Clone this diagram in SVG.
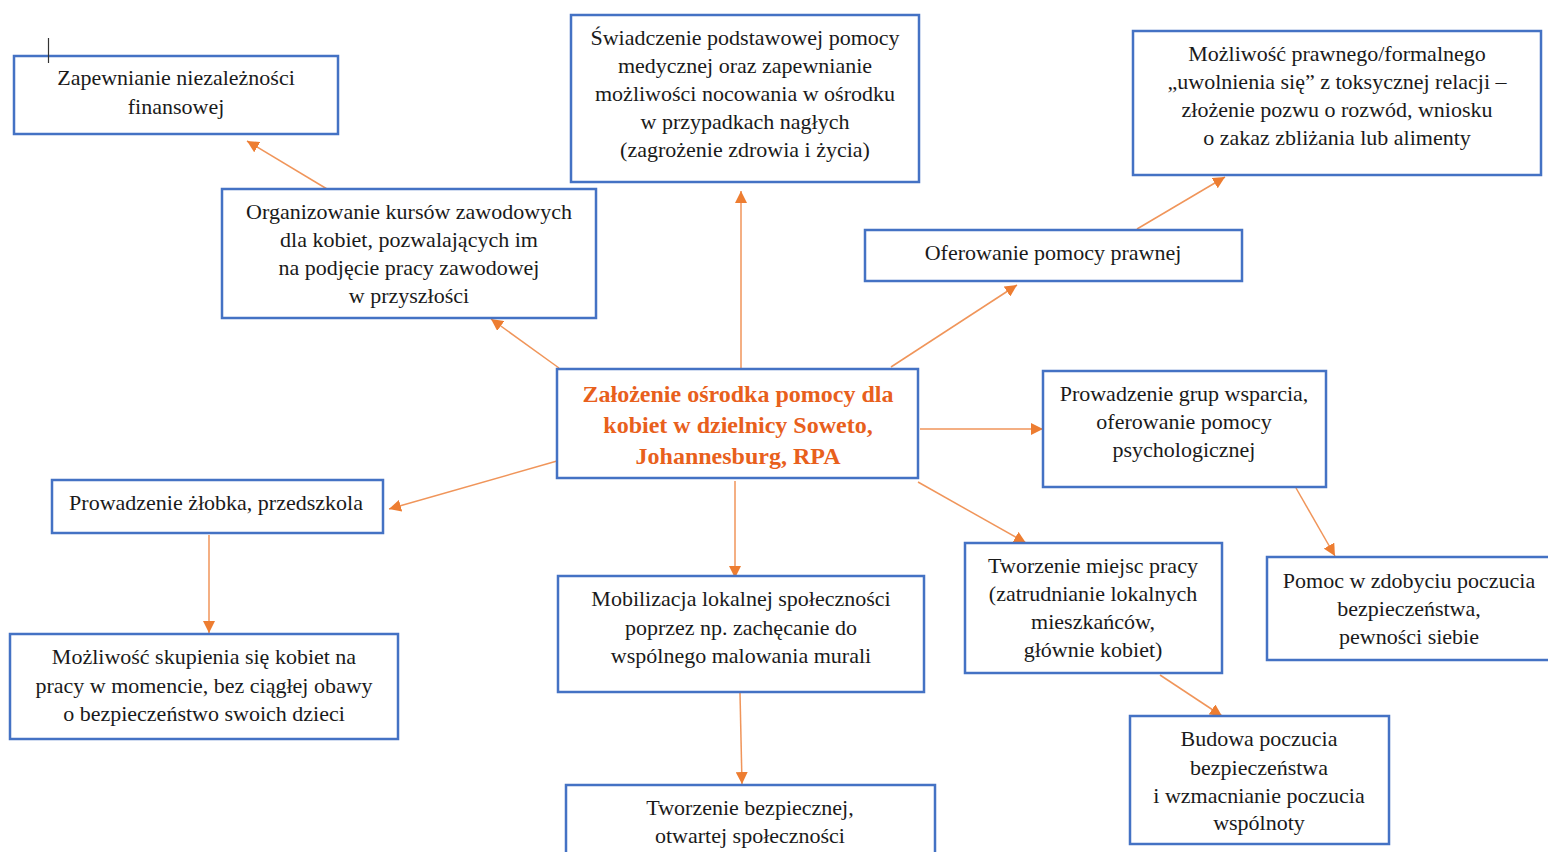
<svg xmlns="http://www.w3.org/2000/svg" width="1548" height="852" viewBox="0 0 1548 852">
<style>
.box{fill:#fff;stroke:#4472C4;stroke-width:2.5}
.t{font-family:"Liberation Serif","Times New Roman",serif;font-size:22px;fill:#1a1a1a;text-anchor:middle}
.c{font-family:"Liberation Serif","Times New Roman",serif;font-size:24px;font-weight:bold;fill:#E8601C;text-anchor:middle}
.e{stroke:#F0955A;stroke-width:1.5;fill:none;marker-end:url(#ah)}
</style>
<defs>
<marker id="ah" markerUnits="userSpaceOnUse" markerWidth="14" markerHeight="12" refX="12" refY="6" orient="auto">
<path d="M0,0 L12,6 L0,12 Z" fill="#ED7D31"/>
</marker>
</defs>
<rect width="1548" height="852" fill="#fff"/>
<g id="connectors">
<path class="e" d="M327,189 L247,141"/>
<path class="e" d="M741,368 L741,191"/>
<path class="e" d="M1137,229 L1225,177"/>
<path class="e" d="M559,368 L491,319"/>
<path class="e" d="M891,367 L1017,285"/>
<path class="e" d="M920,429 L1043,429"/>
<path class="e" d="M557,461 L389,509"/>
<path class="e" d="M735,481 L735,578"/>
<path class="e" d="M918,482 L1026,543"/>
<path class="e" d="M1296,488 L1335,556"/>
<path class="e" d="M209,535 L209,633"/>
<path class="e" d="M740,693 L742,784"/>
<path class="e" d="M1160,675 L1222,716"/>
</g>
<g id="n1"><rect class="box" x="14" y="56" width="324" height="78"/>
<text class="t"><tspan x="176" y="85">Zapewnianie niezależności</tspan><tspan x="176" y="114">finansowej</tspan></text></g>
<g id="n2"><rect class="box" x="571" y="15" width="348" height="167"/>
<text class="t"><tspan x="745" y="45">Świadczenie podstawowej pomocy</tspan><tspan x="745" y="73">medycznej oraz zapewnianie</tspan><tspan x="745" y="101">możliwości nocowania w ośrodku</tspan><tspan x="745" y="129">w przypadkach nagłych</tspan><tspan x="745" y="157">(zagrożenie zdrowia i życia)</tspan></text></g>
<g id="n3"><rect class="box" x="1133" y="31" width="408" height="144"/>
<text class="t"><tspan x="1337" y="61">Możliwość prawnego/formalnego</tspan><tspan x="1337" y="89">„uwolnienia się” z toksycznej relacji –</tspan><tspan x="1337" y="117">złożenie pozwu o rozwód, wniosku</tspan><tspan x="1337" y="145">o zakaz zbliżania lub alimenty</tspan></text></g>
<g id="n4"><rect class="box" x="222" y="189" width="374" height="129"/>
<text class="t"><tspan x="409" y="219">Organizowanie kursów zawodowych</tspan><tspan x="409" y="247">dla kobiet, pozwalających im</tspan><tspan x="409" y="275">na podjęcie pracy zawodowej</tspan><tspan x="409" y="303">w przyszłości</tspan></text></g>
<g id="n5"><rect class="box" x="865" y="230" width="377" height="51"/>
<text class="t"><tspan x="1053" y="260">Oferowanie pomocy prawnej</tspan></text></g>
<g id="n6"><rect class="box" x="557" y="369" width="361" height="109"/>
<text class="c"><tspan x="738" y="402">Założenie ośrodka pomocy dla</tspan><tspan x="738" y="433">kobiet w dzielnicy Soweto,</tspan><tspan x="738" y="464">Johannesburg, RPA</tspan></text></g>
<g id="n7"><rect class="box" x="1043" y="371" width="283" height="116"/>
<text class="t"><tspan x="1184" y="401">Prowadzenie grup wsparcia,</tspan><tspan x="1184" y="429">oferowanie pomocy</tspan><tspan x="1184" y="457">psychologicznej</tspan></text></g>
<g id="n8"><rect class="box" x="52" y="480" width="331" height="53"/>
<text class="t"><tspan x="216" y="510">Prowadzenie żłobka, przedszkola</tspan></text></g>
<g id="n9"><rect class="box" x="10" y="634" width="388" height="105"/>
<text class="t"><tspan x="204" y="664">Możliwość skupienia się kobiet na</tspan><tspan x="204" y="693">pracy w momencie, bez ciągłej obawy</tspan><tspan x="204" y="721">o bezpieczeństwo swoich dzieci</tspan></text></g>
<g id="n10"><rect class="box" x="558" y="576" width="366" height="116"/>
<text class="t"><tspan x="741" y="606">Mobilizacja lokalnej społeczności</tspan><tspan x="741" y="635">poprzez np. zachęcanie do</tspan><tspan x="741" y="663">wspólnego malowania murali</tspan></text></g>
<g id="n11"><rect class="box" x="965" y="543" width="257" height="130"/>
<text class="t"><tspan x="1093" y="573">Tworzenie miejsc pracy</tspan><tspan x="1093" y="601">(zatrudnianie lokalnych</tspan><tspan x="1093" y="629">mieszkańców,</tspan><tspan x="1093" y="657">głównie kobiet)</tspan></text></g>
<g id="n12"><rect class="box" x="1267" y="557" width="290" height="103"/>
<text class="t"><tspan x="1409" y="588">Pomoc w zdobyciu poczucia</tspan><tspan x="1409" y="616">bezpieczeństwa,</tspan><tspan x="1409" y="644">pewności siebie</tspan></text></g>
<g id="n13"><rect class="box" x="1130" y="716" width="259" height="128"/>
<text class="t"><tspan x="1259" y="746">Budowa poczucia</tspan><tspan x="1259" y="775">bezpieczeństwa</tspan><tspan x="1259" y="803">i wzmacnianie poczucia</tspan><tspan x="1259" y="830">wspólnoty</tspan></text></g>
<g id="n14"><rect class="box" x="566" y="785" width="369" height="80"/>
<text class="t"><tspan x="750" y="815">Tworzenie bezpiecznej,</tspan><tspan x="750" y="843">otwartej społeczności</tspan></text></g>
<line x1="48.5" y1="38" x2="48.5" y2="63" stroke="#333" stroke-width="1.2"/>
</svg>
